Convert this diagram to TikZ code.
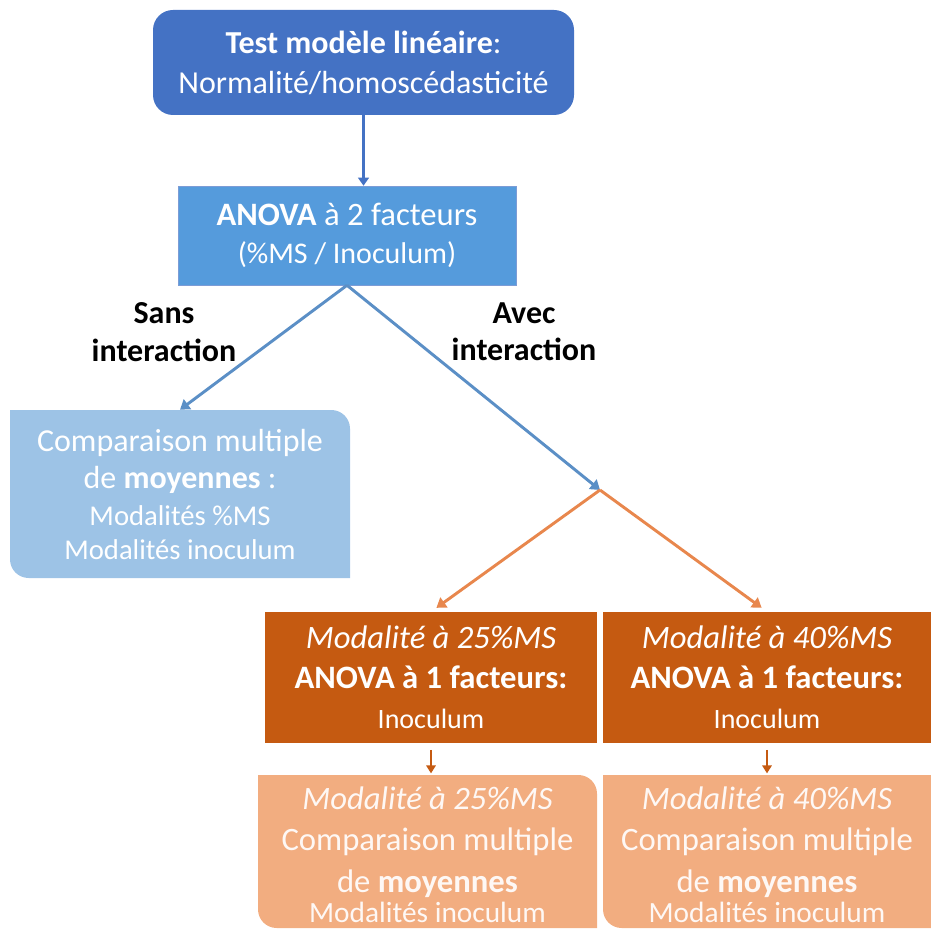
\documentclass[tikz,border=0pt]{standalone}
\usepackage{fontspec}
\setmainfont{Carlito}
\usepackage{tikz}
\usetikzlibrary{arrows.meta}

\definecolor{topblue}{HTML}{4472C4}
\definecolor{anovablue}{HTML}{559BDC}
\definecolor{lightblue}{HTML}{9DC3E6}
\definecolor{lineblue}{HTML}{5B8FC6}
\definecolor{darkorange}{HTML}{C55A11}
\definecolor{lineorange}{HTML}{E8874D}
\definecolor{lightorange}{HTML}{F2AD80}

\begin{document}
\begin{tikzpicture}[x=0.75pt, y=-0.75pt,
    box/.style={inner sep=0pt, align=center, text=white},
    bluearrow/.style={draw=lineblue, line width=2.2pt, -{Triangle[width=9pt,length=7pt]}},
    orangearrow/.style={draw=lineorange, line width=2.2pt, -{Triangle[width=9pt,length=7pt]}},
    label/.style={align=center, font=\fontsize{24}{28}\selectfont\bfseries}]

    \useasboundingbox (0,0) rectangle (931,930);
    \clip (0,0) rectangle (931,930);

    % Top box
    \node[box, fill=topblue, rounded corners=15pt, minimum width=315.75pt, minimum height=78.75pt,
        font=\fontsize{24}{30}\selectfont] (test) at (363.5,62.5)
        {\textbf{Test modèle linéaire}:\\Normalité/homoscédasticité};

    % ANOVA 2 facteurs
    \node[box, fill=anovablue, draw=topblue!70, minimum width=253.5pt, minimum height=74.25pt,
        font=\fontsize{24.5}{29}\selectfont] (anova2) at (347,235.5)
        {\textbf{ANOVA} à 2 facteurs\\{\fontsize{22.5}{29}\selectfont(\%MS / Inoculum)}};

    % Sans interaction
    \fill[lightblue, rounded corners=14pt] (10,410) -- (10,578) [sharp corners] -- (350,578)
        [rounded corners=14pt] -- (350,410) [sharp corners] -- (10,410) -- cycle;
    \node[box, minimum width=255pt, minimum height=126pt, font=\fontsize{24}{28}\selectfont] (multi) at (180,494)
        {Comparaison multiple\\
         de \textbf{moyennes} :\\
         {\fontsize{21.5}{28}\selectfont Modalités \%MS}\\[-3pt]
         {\fontsize{21.5}{28}\selectfont Modalités inoculum}};

    \node[label] (sans) at (164,332) {Sans\\interaction};
    \node[label] (avec) at (524,332) {Avec\\interaction};

    \coordinate (split) at (600,490);

    % Modalites ANOVA 1 facteur
    \node[box, fill=darkorange, minimum width=249pt, minimum height=98.25pt,
        font=\fontsize{24.5}{30}\selectfont] (anovaA) at (431,677.5)
        {\textit{Modalité à 25\%MS}\\
         \textbf{ANOVA à 1 facteurs:}\\
         {\fontsize{21}{30}\selectfont Inoculum}};
    \node[box, fill=darkorange, minimum width=246pt, minimum height=98.25pt,
        font=\fontsize{24.5}{30}\selectfont] (anovaB) at (767,677.5)
        {\textit{Modalité à 40\%MS}\\
         \textbf{ANOVA à 1 facteurs:}\\
         {\fontsize{21}{30}\selectfont Inoculum}};

    % Comparaisons multiples
    \fill[lightorange, rounded corners=14pt] (258,775) -- (258,928) [sharp corners] -- (597,928)
        [rounded corners=14pt] -- (597,775) [sharp corners] -- (258,775) -- cycle;
    \fill[lightorange, rounded corners=14pt] (603,775) -- (603,928) [sharp corners] -- (940,928)
        -- (940,775) -- (603,775) -- cycle;
    \node[box, text=white!92!lightorange, minimum width=254pt, minimum height=122pt,
        font=\fontsize{24.5}{31}\selectfont] (compA) at (427.5,855)
        {\textit{Modalité à 25\%MS}\\
         Comparaison multiple\\
         de \textbf{moyennes}\\[-8pt]
         {\fontsize{22}{31}\selectfont Modalités inoculum}};
    \node[box, text=white!92!lightorange, minimum width=246pt, minimum height=122pt,
        font=\fontsize{24.5}{31}\selectfont] (compB) at (767,855)
        {\textit{Modalité à 40\%MS}\\
         Comparaison multiple\\
         de \textbf{moyennes}\\[-8pt]
         {\fontsize{22}{31}\selectfont Modalités inoculum}};

    % Arrows
    \draw[draw=topblue, line width=2.2pt, -{Triangle[width=8pt,length=6pt]}]
        (test.south) -- (test.south |- anova2.north);
    \draw[bluearrow] (anova2.south) -- (multi.north);
    \draw[bluearrow] (anova2.south) -- (split);
    \draw[orangearrow, shorten >=5pt] (split) -- (anovaA.north);
    \draw[orangearrow, shorten >=5pt] (split) -- (anovaB.north);
    \draw[draw=darkorange, line width=2pt, shorten <=5pt, -{Triangle[width=7pt,length=6pt]}]
        (anovaA.south) -- (anovaA.south |- compA.north);
    \draw[draw=darkorange, line width=2pt, shorten <=5pt, -{Triangle[width=7pt,length=6pt]}]
        (anovaB.south) -- (anovaB.south |- compB.north);

\end{tikzpicture}
\end{document}
